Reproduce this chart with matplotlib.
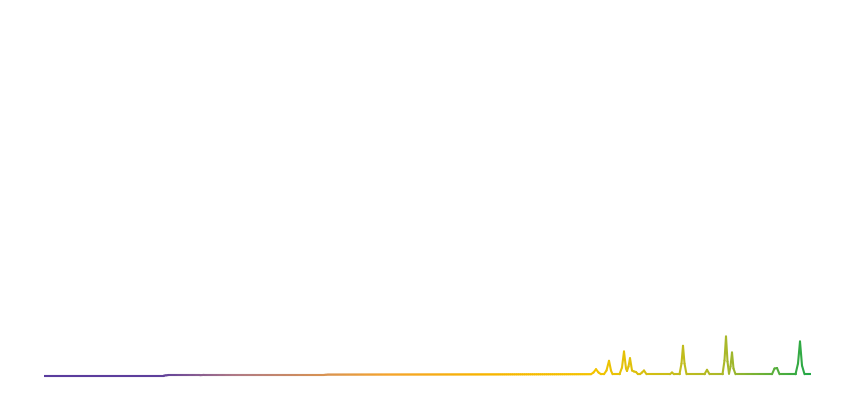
import numpy as np
import matplotlib
matplotlib.use("Agg")
import matplotlib.pyplot as plt
from matplotlib.collections import LineCollection
from matplotlib.colors import LinearSegmentedColormap

# values (x = sample index, y = value)
x_vals = [0, 120, 124, 156, 160, 280, 284, 450, 547, 549.5, 552, 554.5, 557,
          560, 562.5, 565, 567, 568.5, 575.5, 578, 580, 582, 583, 584.5, 586,
          588, 590, 592, 594, 596, 598, 600, 602.5, 626, 628, 630, 635.5,
          637.5, 639, 640.5, 642.5, 660.5, 663, 665.5, 678.5, 680.5, 682,
          683.5, 685, 686.5, 688, 689.5, 691.5, 728, 730.5, 733, 735.5, 751.5,
          754, 756, 758, 760.5, 767]
y_vals = [0, 0, 0.3, 0.3, 0.6, 0.6, 0.9, 1.1, 1.3, 3.0, 6.3, 3.0, 1.3,
          1.3, 5.0, 14.7, 5.0, 1.3, 1.3, 8.0, 24.0, 7.0, 4.5, 9.0, 17.3, 5.0,
          4.0, 3.5, 1.3, 1.3, 3.0, 5.0, 1.3, 1.3, 3.0, 1.3, 1.3, 12.0, 29.7,
          12.0, 1.3, 1.3, 5.7, 1.3, 1.3, 15.0, 39.0, 14.0, 1.8, 9.0, 23.0,
          7.0, 1.3, 1.3, 7.0, 7.5, 1.3, 1.3, 12.0, 34.0, 10.0, 1.3, 1.3]

grad_pos = [0.0, 0.15, 0.25, 0.45, 0.57, 0.72, 0.89, 1.0]
grad_col = ['#5a3c9e', '#5e3f9c', '#b07a86', '#f5a42c', '#f7b400',
            '#f4c400', '#a9b82a', '#22a847']

cmap = LinearSegmentedColormap.from_list('ramp', list(zip(grad_pos, grad_col)))

fig = plt.figure(figsize=(8.66, 4.12), dpi=100)
ax = fig.add_axes([44 / 866, 0, 767 / 866, 1])

# split each piece of the line so the colour ramp runs smoothly along x
xs, ys = [], []
for i in range(len(x_vals) - 1):
    n = max(2, int((x_vals[i + 1] - x_vals[i]) / 2) + 1)
    xs.append(np.linspace(x_vals[i], x_vals[i + 1], n)[:-1])
    ys.append(np.linspace(y_vals[i], y_vals[i + 1], n)[:-1])
xs.append([x_vals[-1]])
ys.append([y_vals[-1]])
xs = np.concatenate(xs)
ys = np.concatenate(ys)

pts = np.column_stack([xs, ys]).reshape(-1, 1, 2)
segs = np.concatenate([pts[:-1], pts[1:]], axis=1)
lc = LineCollection(segs, cmap=cmap, linewidth=1.5, capstyle='round',
                    joinstyle='round')
lc.set_array((xs[:-1] + xs[1:]) / 2 / max(x_vals))
lc.set_clim(0, 1)
ax.add_collection(lc)

ax.set_xlim(0, max(x_vals))
ax.set_ylim(-36.5, 375.5)
ax.axis('off')

fig.savefig('out.png', dpi=100)
